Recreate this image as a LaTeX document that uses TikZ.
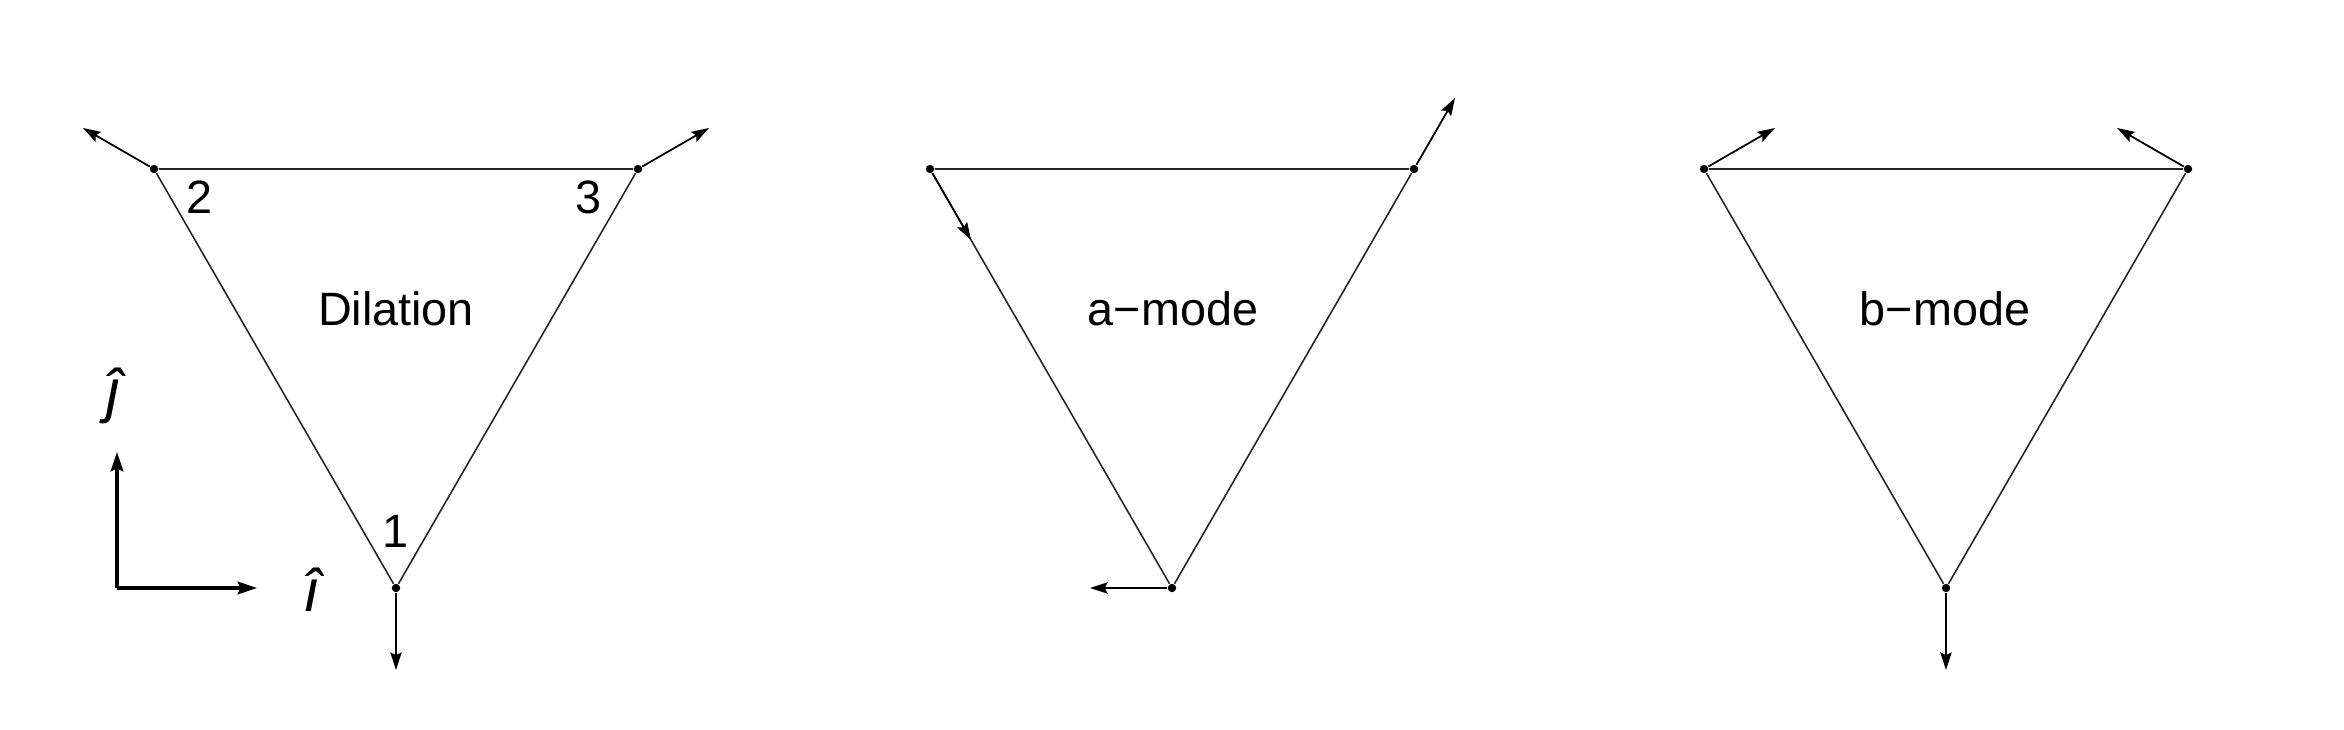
\documentclass[tikz,border=0pt]{standalone}
\usepackage{fontspec}
\setmainfont{Liberation Sans}
\usetikzlibrary{arrows.meta}
\begin{document}
\begin{tikzpicture}[x=0.01cm,y=-0.01cm,
  edge/.style={line width=0.45pt, draw=black!85},
  vec/.style={line width=0.5pt, -{Stealth[length=5pt,width=3.2pt,inset=0.8pt]}},
  axisarrow/.style={line width=0.9pt, -{Stealth[length=5.5pt,width=3.6pt,inset=0.8pt]}},
  vtx/.style={circle, fill=black, inner sep=0pt, minimum size=2.4pt},
  lbl/.style={font=\fontsize{13.3}{16}\selectfont, inner sep=0pt},
  unitlbl/.style={font=\fontsize{17}{20}\selectfont\itshape, inner sep=0pt},
]
\path[use as bounding box, fill=white] (0,0) rectangle (2344,730);

% ---------- Panel 1: Dilation ----------
\node[vtx] (p2) at (154,169) {};
\node[vtx] (p3) at (638,169) {};
\node[vtx] (p1) at (396,588) {};
\draw[edge] (p1) -- (p2) -- (p3) -- (p1);
\coordinate (p2e) at (83,128);
\coordinate (p3e) at (709,128);
\coordinate (p1e) at (396,670);
\draw[vec] (p2) -- (p2e);
\draw[vec] (p3) -- (p3e);
\draw[vec] (p1) -- (p1e);
\node[lbl] (n2) at (200,197) {2};
\node[lbl] (n3) at (589,197) {3};
\node[lbl] (n1) at (396,531) {1};
\node[lbl] (dil) at (396,309) {Dilation};

% axes
\coordinate (ax0) at (117,588);
\coordinate (axj) at (117,452);
\coordinate (axi) at (257,588);
\draw[axisarrow] (ax0) -- (axj);
\draw[axisarrow] (ax0) -- (axi);
\node[unitlbl] (jhat) at (113,396) {ĵ};
\node[unitlbl] (ihat) at (312,590) {î};

% ---------- Panel 2: a-mode ----------
\node[vtx] (a2) at (930,169) {};
\node[vtx] (a3) at (1414,169) {};
\node[vtx] (a1) at (1172,588) {};
\draw[edge] (a1) -- (a2) -- (a3) -- (a1);
\coordinate (a2e) at (971,240);
\coordinate (a3e) at (1455,98);
\coordinate (a1e) at (1090,588);
\draw[vec] (a2) -- (a2e);
\draw[vec] (a3) -- (a3e);
\draw[vec] (a1) -- (a1e);
\node[lbl] (amode) at (1173,309) {a−mode};

% ---------- Panel 3: b-mode ----------
\node[vtx] (b2) at (1704,169) {};
\node[vtx] (b3) at (2188,169) {};
\node[vtx] (b1) at (1946,588) {};
\draw[edge] (b1) -- (b2) -- (b3) -- (b1);
\coordinate (b2e) at (1775,128);
\coordinate (b3e) at (2117,128);
\coordinate (b1e) at (1946,670);
\draw[vec] (b2) -- (b2e);
\draw[vec] (b3) -- (b3e);
\draw[vec] (b1) -- (b1e);
\node[lbl] (bmode) at (1945,309) {b−mode};
\end{tikzpicture}
\end{document}
